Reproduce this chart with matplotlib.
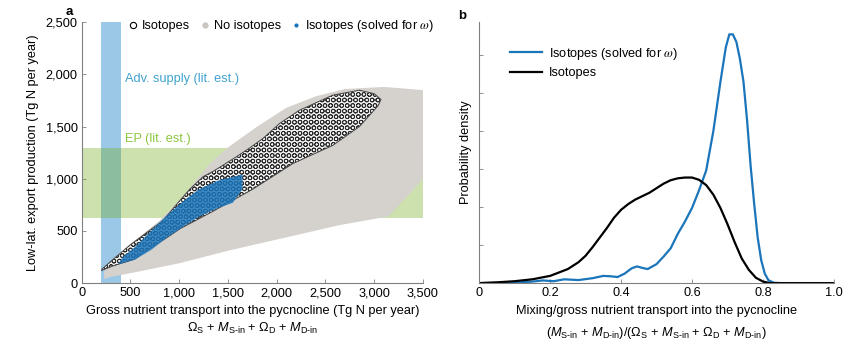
import matplotlib.pyplot as plt
from matplotlib.patches import Polygon
from matplotlib.lines import Line2D
from matplotlib.ticker import FuncFormatter

plt.rcParams['font.family'] = ['Liberation Sans', 'DejaVu Sans']
plt.rcParams['mathtext.fontset'] = 'custom'
plt.rcParams['mathtext.rm'] = 'Liberation Sans'
plt.rcParams['mathtext.it'] = 'Liberation Sans:italic'
plt.rcParams['mathtext.bf'] = 'Liberation Sans:bold'
plt.rcParams['hatch.linewidth'] = 0.6

# ---- panel a (Tg N per year) ----
adv_supply = (200, 400)      # literature estimate, x range
ep_range = (620, 1290)       # literature estimate, y range

# outline of the "no isotopes" cloud
cloud_x = [230, 300, 500, 1000, 1500, 1750, 2340, 2640, 3150, 3500,
           3500, 3100, 2700, 2400, 2100, 1800, 1500, 1300, 1100,
           1000, 800, 500, 300, 230]
cloud_y = [40, 60, 95, 190, 310, 364, 490, 555, 640, 1000,
           1850, 1880, 1860, 1790, 1680, 1500, 1300, 1130, 900,
           790, 600, 370, 215, 110]

# outline of the "isotopes" cloud
iso_x = [200, 321, 545, 668, 886, 1006, 1350, 1754, 2166, 2575, 2848,
         3040, 3070, 3000, 2848, 2575, 2234, 2030, 1859, 1723, 1586,
         1450, 1347, 1245, 1109, 1006, 833, 494, 307, 215]
iso_y = [120, 165, 230, 315, 443, 520, 690, 900, 1146, 1320, 1500,
         1700, 1760, 1815, 1849, 1801, 1657, 1530, 1386, 1295, 1210,
         1130, 1070, 1020, 900, 790, 600, 364, 215, 140]

# outline of the "isotopes (solved for omega)" cloud
omega_x = [375, 545, 715, 886, 1023, 1211, 1400, 1550, 1650,
           1650, 1420, 1200, 1023, 886, 715, 545, 420]
omega_y = [180, 225, 320, 445, 530, 640, 720, 770, 900,
           1040, 990, 900, 770, 660, 505, 345, 250]

# ---- panel b ----
ratio_iso = [0, 0.05, 0.1, 0.15, 0.2, 0.25, 0.28, 0.3, 0.32, 0.34, 0.36,
             0.38, 0.4, 0.42, 0.44, 0.46, 0.48, 0.5, 0.52, 0.54, 0.56,
             0.58, 0.6, 0.62, 0.64, 0.66, 0.68, 0.7, 0.72, 0.74, 0.76,
             0.78, 0.8, 0.82, 1.0]
dens_iso = [0, 0.02, 0.05, 0.1, 0.19, 0.37, 0.55, 0.72, 0.95, 1.2, 1.45,
            1.72, 1.93, 2.08, 2.2, 2.29, 2.38, 2.5, 2.62, 2.71, 2.76,
            2.78, 2.78, 2.72, 2.58, 2.33, 1.98, 1.55, 1.08, 0.65, 0.35,
            0.14, 0.04, 0.0, 0]

ratio_w = [0, 0.1, 0.15, 0.18, 0.21, 0.24, 0.28, 0.32, 0.35, 0.37, 0.39,
           0.41, 0.43, 0.445, 0.46, 0.475, 0.5, 0.52, 0.54, 0.56, 0.58,
           0.6, 0.62, 0.64, 0.66, 0.68, 0.695, 0.705, 0.715, 0.725, 0.735,
           0.745, 0.755, 0.765, 0.775, 0.785, 0.795, 0.805, 0.815, 0.83,
           0.85, 1.0]
dens_w = [0, 0.01, 0.04, 0.07, 0.05, 0.1, 0.08, 0.13, 0.19, 0.18, 0.16,
          0.25, 0.39, 0.44, 0.4, 0.37, 0.5, 0.7, 0.92, 1.3, 1.62,
          1.98, 2.45, 2.97, 4.0, 5.3, 6.2, 6.55, 6.55, 6.35, 5.9,
          5.3, 4.3, 3.1, 2.1, 1.2, 0.6, 0.25, 0.08, 0.01,
          0, 0]

blue = '#1b75bb'
axis_col = '#808080'
fs = 9.2

fig = plt.figure(figsize=(8.51, 3.53), dpi=100)
ax1 = fig.add_axes([0.096, 0.198, 0.401, 0.739])
ax2 = fig.add_axes([0.563, 0.198, 0.417, 0.739])

# --- a ---
ax1.axvspan(*adv_supply, color='#9bc8e6', lw=0, zorder=1)
ax1.axhspan(*ep_range, color='#70a91a', alpha=0.35, lw=0, zorder=2)
ax1.add_patch(Polygon(list(zip(cloud_x, cloud_y)), closed=True,
                      facecolor='#d5d1cc', edgecolor='none', zorder=3))
# isotopes cloud: dense overlapping open circles, drawn as a circle hatch
ax1.add_patch(Polygon(list(zip(iso_x, iso_y)), closed=True,
                      facecolor='#f4f4f4', edgecolor='#2a2a2a', lw=0,
                      hatch='OOO', zorder=4))
ax1.add_patch(Polygon(list(zip(iso_x, iso_y)), closed=True,
                      facecolor='none', edgecolor='#444444', lw=0.7,
                      zorder=4))
ax1.add_patch(Polygon(list(zip(omega_x, omega_y)), closed=True,
                      facecolor=blue, edgecolor='none', alpha=0.85,
                      zorder=5))

ax1.text(440, 1960, 'Adv. supply (lit. est.)', color='#3fa2d0',
         fontsize=fs, va='center')
ax1.text(440, 1380, 'EP (lit. est.)', color='#8cc63f', fontsize=fs,
         va='center')

ax1.set_xlim(0, 3500)
ax1.set_ylim(0, 2500)
ax1.set_xticks(range(0, 3501, 500))
ax1.set_yticks(range(0, 2501, 500))
fmt = FuncFormatter(lambda v, p: f'{int(v):,}')
ax1.xaxis.set_major_formatter(fmt)
ax1.yaxis.set_major_formatter(fmt)
ax1.set_xlabel('Gross nutrient transport into the pycnocline (Tg N per year)\n'
               r'$\Omega_{\mathrm{S}}$ + $M_{\text{S-in}}$ + '
               r'$\Omega_{\mathrm{D}}$ + $M_{\text{D-in}}$',
               fontsize=fs, labelpad=4, linespacing=1.4)
ax1.set_ylabel('Low-lat. export production (Tg N per year)', fontsize=fs,
               labelpad=5)

handles = [
    Line2D([], [], ls='none', marker='o', mfc='white', mec='black',
           ms=4.5, mew=0.8),
    Line2D([], [], ls='none', marker='o', mfc='#c9c6c2', mec='none', ms=4.5),
    Line2D([], [], ls='none', marker='o', mfc=blue, mec='none', ms=3),
]
leg1 = ax1.legend(handles, ['Isotopes', 'No isotopes',
                            r'Isotopes (solved for $\omega$)'],
                  loc='center left', bbox_to_anchor=(0.108, 0.985), ncol=3,
                  frameon=False, fontsize=fs, handletextpad=0.1,
                  columnspacing=0.6, handlelength=1.2, borderpad=0)
leg1.get_texts()[2].set_math_fontfamily('stix')

# --- b ---
ax2.plot(ratio_w, dens_w, color=blue, lw=1.6,
         label=r'Isotopes (solved for $\omega$)')
ax2.plot(ratio_iso, dens_iso, color='black', lw=1.6, label='Isotopes')
ax2.set_xlim(0, 1.0)
ax2.set_ylim(0, 6.87)
ax2.set_yticks(range(0, 7))
ax2.set_yticklabels([])
ax2.set_xticks([0, 0.2, 0.4, 0.6, 0.8, 1.0])
ax2.set_xticklabels(['0', '0.2', '0.4', '0.6', '0.8', '1.0'])
ax2.set_xlabel('Mixing/gross nutrient transport into the pycnocline\n'
               r'($M_{\text{S-in}}$ + $M_{\text{D-in}}$)/($\Omega_{\mathrm{S}}$'
               r' + $M_{\text{S-in}}$ + $\Omega_{\mathrm{D}}$ + $M_{\text{D-in}}$)',
               fontsize=fs, labelpad=4, linespacing=1.7)
ax2.set_ylabel('Probability density', fontsize=fs, labelpad=2)
leg2 = ax2.legend(loc='upper left', bbox_to_anchor=(0.07, 0.935),
                  frameon=False, fontsize=fs, handlelength=2.5,
                  handletextpad=0.5, labelspacing=0.45, borderpad=0)
leg2.get_texts()[0].set_math_fontfamily('stix')

for ax in (ax1, ax2):
    for s in ('top', 'right'):
        ax.spines[s].set_visible(False)
    for s in ('left', 'bottom'):
        ax.spines[s].set_color(axis_col)
        ax.spines[s].set_linewidth(0.8)
    ax.tick_params(direction='in', length=3, width=0.6, color=axis_col,
                   labelsize=fs, pad=3)

fig.text(0.082, 0.965, 'a', fontsize=9.5, fontweight='bold', ha='center',
         va='center')
fig.text(0.543, 0.955, 'b', fontsize=9.5, fontweight='bold', ha='center',
         va='center')

fig.savefig('out.png', dpi=100)
